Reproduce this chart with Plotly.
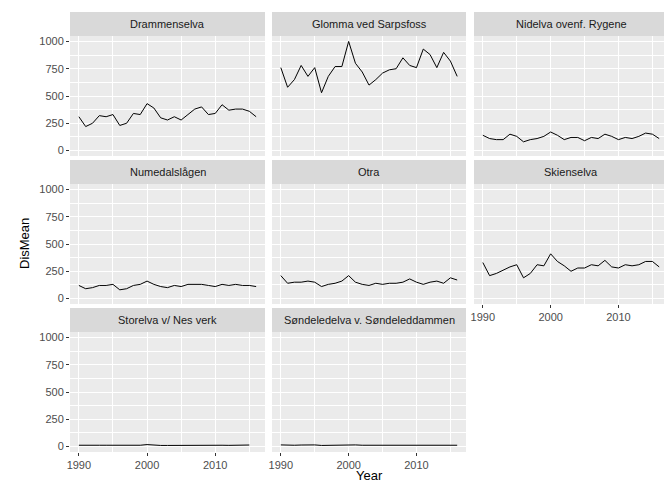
import plotly.graph_objects as go

years = list(range(1990, 2017))
names = ["Drammenselva", "Glomma ved Sarpsfoss", "Nidelva ovenf. Rygene", "Numedalslågen",
         "Otra", "Skienselva", "Storelva v/ Nes verk", "Søndeledelva v. Søndeleddammen"]
drammen = [310,220,250,320,310,330,230,250,340,330,430,390,300,280,310,280,330,380,400,330,340,420,370,380,380,360,310]
glomma = [760,580,650,780,680,760,530,680,770,770,1000,800,720,600,650,710,740,750,850,780,760,930,880,760,900,820,680]
nidelva = [140,110,100,100,150,130,80,100,110,130,170,140,100,120,120,90,120,110,150,130,100,120,110,130,160,150,110]
numedal = [120,90,100,120,120,130,80,90,120,130,160,130,110,100,120,110,130,130,130,120,110,130,120,130,120,120,110]
otra = [210,140,150,150,160,150,110,130,140,160,210,150,130,120,140,130,140,140,150,180,150,130,150,160,140,190,170]
skien = [330,210,230,260,290,310,190,230,310,300,410,340,300,250,280,280,310,300,350,290,280,310,300,310,340,340,290]
storelva = [12,10,10,12,12,12,8,10,12,12,18,13,10,10,11,10,12,12,13,12,10,12,11,12,13,14,None]
sondeled = [15,12,12,14,15,15,10,12,14,14,18,15,12,12,14,12,14,14,16,14,12,14,13,14,15,15,12]
series = [drammen, glomma, nidelva, numedal, otra, skien, storelva, sondeled]

W, H = 672, 480
cols_px = [(62, 257), (264, 458), (466, 660)]
rows_px = [(28, 148), (176, 296), (324, 444)]
strip_h = 24

fig = go.Figure()
shapes, annots = [], []
for i, (nm, vals) in enumerate(zip(names, series)):
    r, c = divmod(i, 3)
    x0, x1 = cols_px[c]; y0, y1 = rows_px[r]
    k = i + 1
    xa = "xaxis" if k == 1 else f"xaxis{k}"
    ya = "yaxis" if k == 1 else f"yaxis{k}"
    fig.add_trace(go.Scatter(x=years, y=vals, mode="lines", line=dict(color="black", width=1),
                             xaxis=f"x{k}" if k > 1 else "x", yaxis=f"y{k}" if k > 1 else "y",
                             showlegend=False))
    show_x = (r == 2) or (i == 5)
    show_y = (c == 0)
    fig.layout[xa] = dict(domain=[x0 / W, x1 / W], anchor=f"y{k}" if k > 1 else "y",
                          range=[1988.7, 2017.3], tickvals=[1990, 2000, 2010], automargin=False,
                          showticklabels=show_x, ticks="outside" if show_x else "",
                          ticklen=3, tickcolor="#333", gridcolor="white", gridwidth=1.3,
                          minor=dict(tickvals=[1995, 2005, 2015], showgrid=True, gridcolor="white", gridwidth=0.6),
                          zeroline=False, showline=False, tickfont=dict(size=11, color="#4d4d4d"))
    fig.layout[ya] = dict(domain=[1 - y1 / H, 1 - y0 / H], anchor=f"x{k}" if k > 1 else "x",
                          range=[-50, 1050], tickvals=[0, 250, 500, 750, 1000], automargin=False,
                          showticklabels=show_y, ticks="outside" if show_y else "",
                          ticklen=3, tickcolor="#333", gridcolor="white", gridwidth=1.3,
                          minor=dict(tickvals=[125, 375, 625, 875], showgrid=True, gridcolor="white", gridwidth=0.6),
                          zeroline=False, showline=False, tickfont=dict(size=11, color="#4d4d4d"))
    shapes.append(dict(type="rect", xref="paper", yref="paper", x0=x0 / W, x1=x1 / W,
                       y0=1 - y1 / H, y1=1 - y0 / H, fillcolor="#ebebeb", line=dict(width=0), layer="below"))
    shapes.append(dict(type="rect", xref="paper", yref="paper", x0=x0 / W, x1=x1 / W,
                       y0=1 - y0 / H, y1=1 - (y0 - strip_h) / H, fillcolor="#d9d9d9", line=dict(width=0)))
    annots.append(dict(text=nm, xref="paper", yref="paper", x=(x0 + x1) / 2 / W, xanchor="center",
                       y=1 - (y0 - strip_h / 2) / H, yanchor="middle", showarrow=False,
                       font=dict(size=11, color="#1a1a1a")))

annots.append(dict(text="Year", xref="paper", yref="paper", x=(62 + 660) / 2 / W, y=1 - 467 / H,
                   xanchor="center", yanchor="middle",
                   showarrow=False, font=dict(size=13, color="black")))
annots.append(dict(text="DisMean", xref="paper", yref="paper", x=16 / W, y=1 - 236 / H,
                   xanchor="center", yanchor="middle",
                   showarrow=False, textangle=-90, font=dict(size=13, color="black")))
fig.update_layout(width=W, height=H, margin=dict(l=0, r=0, t=0, b=0, autoexpand=False),
                  plot_bgcolor="rgba(0,0,0,0)",
                  paper_bgcolor="white", shapes=shapes, annotations=annots,
                  font=dict(family="Liberation Sans"))
fig.write_html("out.html")
